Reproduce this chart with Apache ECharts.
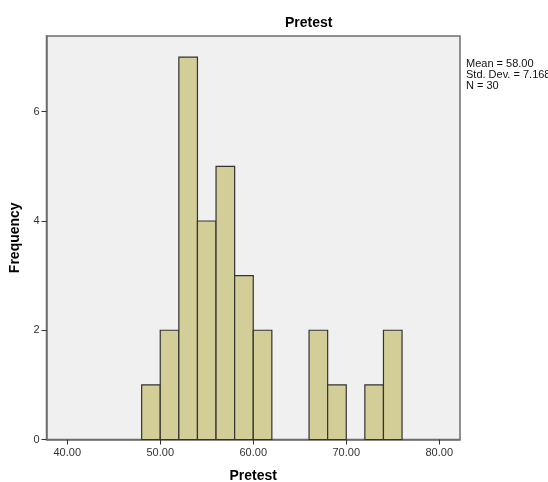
<!DOCTYPE html>
<html>
<head>
<meta charset="utf-8">
<script src="https://cdn.jsdelivr.net/npm/echarts@6/dist/echarts.min.js"></script>
<style>
  html, body { margin: 0; padding: 0; background: #fff; }
  #chart { width: 548px; height: 482px; }
</style>
</head>
<body>
<div id="chart"></div>
<script>
// histogram bins (start of each bin, width 2)
var binStarts = [48, 50, 52, 54, 56, 58, 60, 62, 64, 66, 68, 70, 72, 74]
var binWidth = 2
var counts = [1, 2, 7, 4, 5, 3, 2, 0, 0, 2, 1, 0, 1, 2]
var xTicks = [40, 50, 60, 70, 80]
var yTicks = [0, 2, 4, 6]
var statsLines = ['Mean = 58.00', 'Std. Dev. = 7.168', 'N = 30']

var chart = echarts.init(document.getElementById('chart'))

var barData = binStarts.map(function (s, i) {
  return [s, s + binWidth, counts[i]]
})

var font = 'Liberation Sans, Arial, sans-serif'

var option = {
  backgroundColor: '#fff',
  animation: false,
  title: {
    text: 'Pretest',
    left: 280,
    top: 11,
    textStyle: { fontFamily: font, fontSize: 14, fontWeight: 'bold', color: '#000' }
  },
  grid: {
    left: 46.5,
    right: 88,
    top: 36,
    bottom: 42.5,
    outerBoundsMode: 'none', // keep the plot box where it is
    show: true,
    backgroundColor: '#F0F0F0',
    borderColor: '#6e6e6e',
    borderWidth: 1.5
  },
  graphic: [
    {
      type: 'text',
      left: 466,
      top: 58,
      style: {
        text: statsLines.join('\n'),
        fill: '#111',
        font: '11px ' + font,
        lineHeight: 11
      }
    }
  ],
  xAxis: {
    type: 'value',
    min: 37.77,
    max: 82.23,
    name: 'Pretest',
    nameLocation: 'middle',
    nameGap: 30,
    nameTextStyle: { fontFamily: font, fontSize: 14, fontWeight: 'bold', color: '#000' },
    splitLine: { show: false },
    axisLine: { show: true, lineStyle: { color: '#6e6e6e', width: 1.5 } },
    axisTick: { show: true, length: 5, lineStyle: { color: '#333' }, customValues: xTicks },
    axisLabel: {
      color: '#333',
      fontFamily: font,
      fontSize: 11,
      margin: 8,
      customValues: xTicks,
      formatter: function (v) { return v.toFixed(2) }
    }
  },
  yAxis: {
    type: 'value',
    min: 0,
    max: 7.386,
    name: 'Frequency',
    nameLocation: 'middle',
    nameGap: 20,
    nameTextStyle: { fontFamily: font, fontSize: 14, fontWeight: 'bold', color: '#000' },
    splitLine: { show: false },
    axisLine: { show: true, lineStyle: { color: '#6e6e6e', width: 1.5 } },
    axisTick: { show: true, length: 5, lineStyle: { color: '#333' }, customValues: yTicks },
    axisLabel: {
      color: '#333',
      fontFamily: font,
      fontSize: 11,
      margin: 7,
      customValues: yTicks
    }
  },
  series: [
    {
      type: 'custom',
      data: barData,
      encode: { x: [0, 1], y: 2 },
      renderItem: function (params, api) {
        if (api.value(2) <= 0) return null
        var p0 = api.coord([api.value(0), 0])
        var p1 = api.coord([api.value(1), api.value(2)])
        return {
          type: 'rect',
          shape: { x: p0[0], y: p1[1], width: p1[0] - p0[0], height: p0[1] - p1[1] },
          style: { fill: '#D3CE97', stroke: '#333', lineWidth: 1.2 }
        }
      }
    }
  ]
}

chart.setOption(option)
</script>
</body>
</html>
